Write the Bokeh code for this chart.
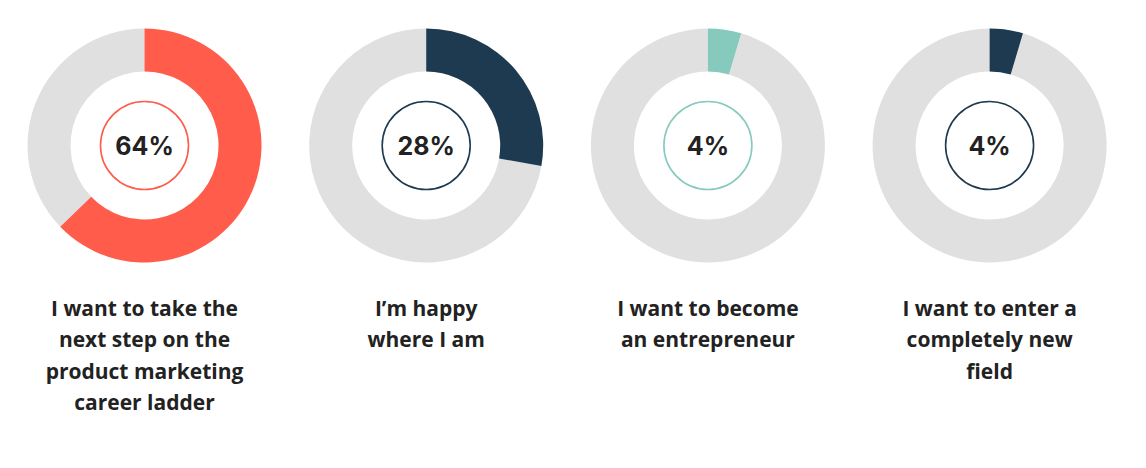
import math
from bokeh.plotting import figure
from bokeh.models import Range1d
from bokeh.core.properties import value
from bokeh.embed import file_html
from bokeh.resources import INLINE

# ---- data ----
percent_labels = [64, 28, 4, 4]          # numbers printed in the centres
arc_shares = [62.8, 27.8, 4.6, 4.6]      # arc lengths as drawn (% of circle)
labels = [
    "I want to take the\nnext step on the\nproduct marketing\ncareer ladder",
    "I\u2019m happy\nwhere I am",
    "I want to become\nan entrepreneur",
    "I want to enter a\ncompletely new\nfield",
]
colors = ["#FF5C4C", "#1D3A50", "#86CABE", "#1D3A50"]
track_color = "#E0E0E0"
text_color = "#222222"

# ---- layout (pixel-like data units) ----
W, H = 1130, 452
cx0, dx = 144, 281.7
cy = H - 145
r_out, r_in, r_ring = 117, 74, 44
label_y0, label_dy = H - 307, 31.5

p = figure(width=W, height=H, output_backend="svg", toolbar_location=None,
           x_range=Range1d(0, W), y_range=Range1d(0, H),
           min_border=0, outline_line_color=None)
p.axis.visible = False
p.grid.visible = False
p.background_fill_color = "white"
p.border_fill_color = "white"

n = len(arc_shares)
cxs = [cx0 + i * dx for i in range(n)]
top = math.pi / 2
fill_start = [top - 2 * math.pi * v / 100 for v in arc_shares]

# grey track (rest of circle)
p.annular_wedge(x=cxs, y=[cy] * n, inner_radius=r_in, outer_radius=r_out,
                start_angle=[top] * n, end_angle=fill_start, direction="anticlock",
                fill_color=track_color, line_color=None)
# coloured value
p.annular_wedge(x=cxs, y=[cy] * n, inner_radius=r_in, outer_radius=r_out,
                start_angle=fill_start, end_angle=[top] * n, direction="anticlock",
                fill_color=colors, line_color=None)
# inner ring
p.circle(x=cxs, y=[cy] * n, radius=r_ring, fill_color=None,
         line_color=colors, line_width=1.6)
# percentage text
p.text(x=cxs, y=[cy] * n, text=[f"{v}%" for v in percent_labels],
       text_align="center", text_baseline="middle",
       text_font=value("Inter"), text_font_style="bold",
       text_font_size="25px", text_color=text_color)

# labels, one line per glyph
lx, ly, lt = [], [], []
for i, lab in enumerate(labels):
    for j, line in enumerate(lab.split("\n")):
        lx.append(cxs[i])
        ly.append(label_y0 - j * label_dy)
        lt.append(line)
p.text(x=lx, y=ly, text=lt, text_align="center", text_baseline="middle",
       text_font=value("Open Sans"), text_font_style="bold",
       text_font_size="21px", text_color=text_color)

open("out.html", "w").write(file_html(p, INLINE))
